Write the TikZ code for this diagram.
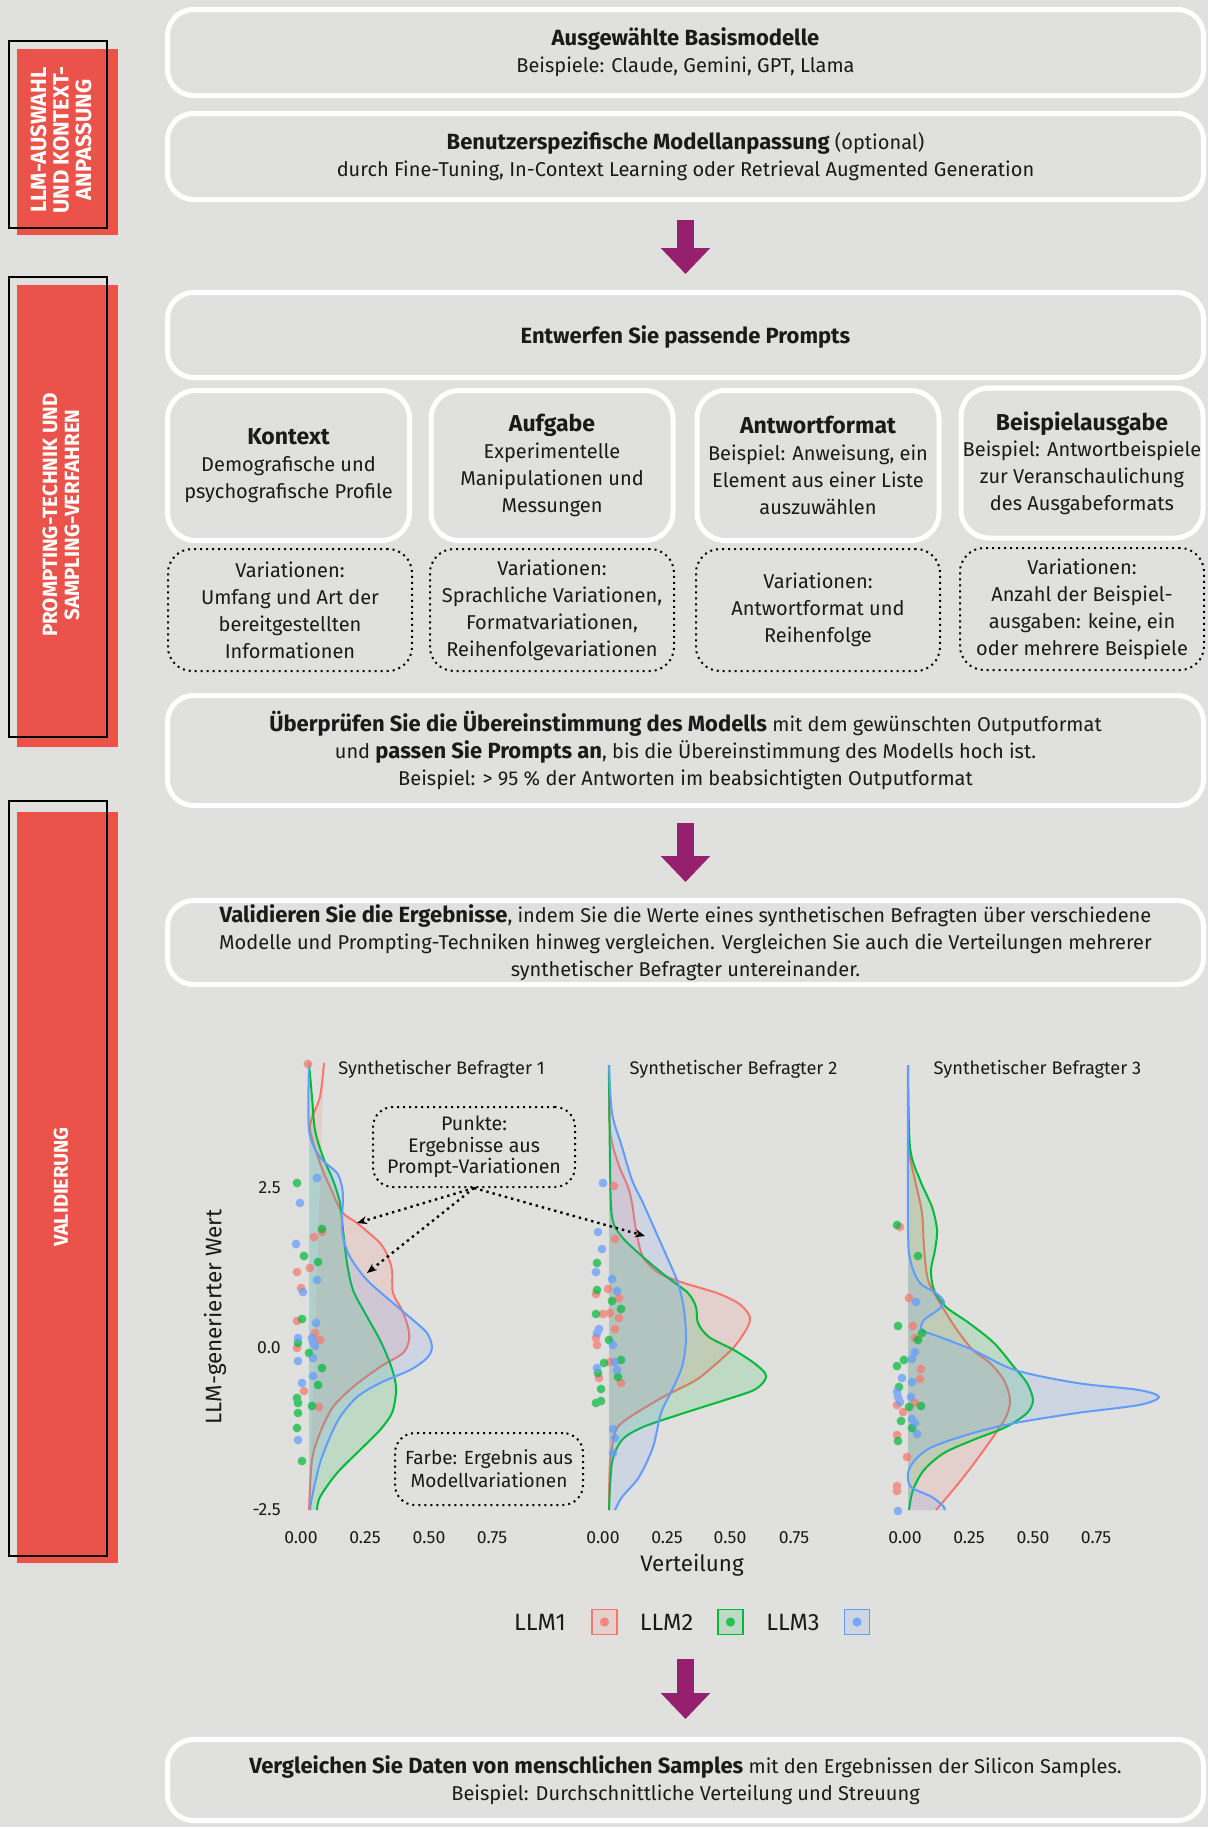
\documentclass[tikz,border=0pt]{standalone}
\usepackage{fontspec}
\setmainfont{Fira Sans}
\usepackage{xcolor}
\definecolor{bggray}{RGB}{224,224,222}
\definecolor{barred}{RGB}{234,82,74}
\definecolor{arrowpurple}{RGB}{150,31,110}
\definecolor{textdark}{RGB}{26,26,26}
\definecolor{llmred}{RGB}{248,118,109}
\definecolor{llmgreen}{RGB}{0,186,56}
\definecolor{llmblue}{RGB}{97,156,255}
\usepackage{tikz}
\usetikzlibrary{arrows.meta, positioning, calc}

\newcommand{\boldpart}[1]{{\fontsize{11}{13.4}\selectfont\bfseries #1}}
\newcommand{\parttitle}[1]{{\fontsize{11.5}{13.4}\selectfont\bfseries #1}}

\tikzset{
  stagebox/.style={draw=white, line width=2.5pt, rounded corners=13pt, fill=bggray,
    minimum width=518pt, inner sep=0pt, align=center, text=textdark,
    font=\fontsize{10}{13.4}\selectfont, execute at begin node={\rule{0pt}{11pt}}},
  partbox/.style={stagebox, rounded corners=14pt, minimum width=121pt, minimum height=75pt,
    execute at begin node={\rule{0pt}{12pt}}},
  varbox/.style={draw=black, line width=1pt, dotted, rounded corners=12pt, fill=bggray,
    minimum width=122pt, minimum height=61pt, inner sep=0pt, align=center, text=textdark,
    font=\fontsize{10}{13.5}\selectfont},
  notebox/.style={varbox, rounded corners=10pt, font=\fontsize{9.8}{10.8}\selectfont},
  bigarrow/.style={draw=arrowpurple, line width=8.5pt, -{Triangle[width=24pt, length=13pt]}},
  sidebar/.style={fill=barred},
  sideframe/.style={draw=black, line width=1.2pt},
  sidelabel/.style={rotate=90, text=white, align=center, inner sep=0pt,
    font=\fontsize{10}{11}\selectfont\bfseries},
  paneltitle/.style={text=textdark, inner sep=0pt, font=\fontsize{9.1}{10}\selectfont},
  ticklabel/.style={text=textdark, inner sep=0pt, font=\fontsize{8.8}{9}\selectfont},
  axislabel/.style={text=textdark, inner sep=0pt, font=\fontsize{11.2}{12}\selectfont},
  legendlabel/.style={text=textdark, inner sep=0pt, font=\fontsize{11.8}{12}\selectfont},
  legendkey/.style={line width=0.8pt, minimum size=12.5pt, inner sep=0pt},
  pointer/.style={draw=black, line width=1.2pt, dotted, -{Stealth[length=5pt, width=4pt]}},
}

% one density: fill, then the upper outline only
\newcommand{\densitycurve}[3]{%
  \fill[#1, fill opacity=0.15] plot[smooth] coordinates {#3} -- #2 -- cycle;
  \draw[#1, line width=1pt] plot[smooth] coordinates {#3};}

\begin{document}
\begin{tikzpicture}[x=0.5pt, y=-0.5pt]
  \useasboundingbox (0,0) rectangle (1208,1827);
  \fill[bggray] (0,0) rectangle (1208,1827);

  % --- Side bars ---
  \fill[sidebar] (17,49) rectangle (118,235);
  \draw[sideframe] (9,41) rectangle (107,228);
  \node[sidelabel, font=\fontsize{11}{11.2}\selectfont\bfseries] (sideauswahl) at (61,140)
    {LLM-AUSWAHL\\UND KONTEXT-\\ANPASSUNG};

  \fill[sidebar] (17,285) rectangle (118,747);
  \draw[sideframe] (9,277) rectangle (107,737);
  \node[sidelabel, font=\fontsize{10.3}{11}\selectfont\bfseries] (sideprompting) at (61,515)
    {PROMPTING-TECHNIK UND\\SAMPLING-VERFAHREN};

  \fill[sidebar] (17,812) rectangle (118,1563);
  \draw[sideframe] (9,801) rectangle (107,1556);
  \node[sidelabel] (sidevalidierung) at (61,1187) {VALIDIERUNG};

  % --- Stage 1: model choice ---
  \node[stagebox, minimum height=43pt] (basismodelle) at (685.5,52.5)
    {\boldpart{Ausgewählte Basismodelle}\\Beispiele: Claude, Gemini, GPT, Llama};
  \node[stagebox, minimum height=43pt] (anpassung) at (685.5,156.5)
    {\boldpart{Benutzerspezifische Modellanpassung} (optional)\\durch Fine-Tuning, In-Context Learning oder Retrieval Augmented Generation};

  % --- Stage 2: prompting ---
  \node[stagebox, minimum height=42.5pt] (prompts) at (685.5,335)
    {\boldpart{Entwerfen Sie passende Prompts}};
  \draw[bigarrow] ([yshift=-9pt]anpassung.south) -- ([yshift=8pt]prompts.north);

  \node[partbox] (kontext) at (288.5,465.5)
    {\parttitle{Kontext}\\Demografische und\\psychografische Profile};
  \node[partbox] (aufgabe) at (552,465.5)
    {\parttitle{Aufgabe}\\Experimentelle\\Manipulationen und\\Messungen};
  \node[partbox] (antwortformat) at (818,465.5)
    {\parttitle{Antwortformat}\\Beispiel: Anweisung, ein\\Element aus einer Liste\\auszuwählen};
  \node[partbox] (beispielausgabe) at (1082,463)
    {\parttitle{Beispielausgabe}\\Beispiel: Antwortbeispiele\\zur Veranschaulichung\\des Ausgabeformats};

  \node[varbox] (varkontext) at (290,610)
    {Variationen:\\Umfang und Art der\\bereitgestellten\\Informationen};
  \node[varbox] (varaufgabe) at (552,610)
    {Variationen:\\Sprachliche Variationen,\\Formatvariationen,\\Reihenfolgevariationen};
  \node[varbox] (varantwort) at (818,610)
    {Variationen:\\Antwortformat und\\Reihenfolge};
  \node[varbox] (varbeispiel) at (1082,609)
    {Variationen:\\Anzahl der Beispiel-\\ausgaben: keine, ein\\oder mehrere Beispiele};

  \node[stagebox, minimum height=55pt] (ueberpruefen) at (685.5,750.5)
    {\boldpart{Überprüfen Sie die Übereinstimmung des Modells} mit dem gewünschten Outputformat\\
     und \boldpart{passen Sie Prompts an}, bis die Übereinstimmung des Modells hoch ist.\\
     Beispiel: > 95 \% der Antworten im beabsichtigten Outputformat};

  % --- Stage 3: validation ---
  \node[stagebox, minimum height=42pt] (validieren) at (685.5,942.5)
    {\boldpart{Validieren Sie die Ergebnisse}, indem Sie die Werte eines synthetischen Befragten über verschiedene\\
     Modelle und Prompting-Techniken hinweg vergleichen. Vergleichen Sie auch die Verteilungen mehrerer\\
     synthetischer Befragter untereinander.};
  \draw[bigarrow] ([yshift=-7.5pt]ueberpruefen.south) -- ([yshift=8pt]validieren.north);

  % Densities, panel 1
  \densitycurve{llmred}{(309,1510)}{(324,1063) (320,1097) (310,1127) (320,1163) (330,1187) (342,1212) (357,1223) (380,1243) (388,1257) (392,1270) (393,1293) (402,1310) (408,1327) (409,1340) (403,1353) (380,1367) (353,1387) (333,1407) (320,1433) (312,1460) (309,1510)}
  \densitycurve{llmgreen}{(309,1510)}{(309,1063) (312,1097) (315,1130) (323,1157) (333,1180) (340,1203) (343,1230) (347,1263) (353,1290) (365,1313) (380,1340) (390,1363) (395,1380) (396,1393) (392,1413) (380,1430) (360,1450) (337,1473) (320,1497) (317,1510)}
  \densitycurve{llmblue}{(309,1510)}{(309,1063) (309,1130) (320,1157) (337,1173) (342,1187) (343,1200) (342,1217) (343,1237) (350,1257) (367,1280) (393,1303) (413,1320) (427,1333) (432,1347) (427,1358) (410,1370) (380,1383) (357,1397) (340,1417) (330,1437) (320,1463) (312,1497) (310,1510)}

  % Densities, panel 2
  \densitycurve{llmred}{(609,1510)}{(609,1065) (610,1130) (618,1163) (628,1187) (632,1203) (636,1230) (643,1257) (659,1273) (684,1283) (717,1293) (738,1303) (748,1313) (750,1320) (746,1330) (734,1347) (717,1363) (696,1380) (663,1397) (630,1417) (616,1430) (610,1463) (609,1510)}
  \densitycurve{llmgreen}{(609,1510)}{(609,1065) (610,1163) (612,1217) (622,1237) (643,1257) (667,1277) (688,1293) (696,1307) (698,1323) (709,1337) (734,1350) (754,1363) (765,1373) (765,1380) (754,1390) (725,1400) (684,1413) (643,1427) (622,1440) (612,1463) (609,1510)}
  \densitycurve{llmblue}{(609,1510)}{(609,1065) (612,1113) (622,1147) (632,1180) (643,1203) (655,1230) (667,1257) (678,1283) (684,1310) (686,1340) (682,1367) (672,1390) (661,1413) (653,1447) (639,1477) (622,1497) (615,1510)}

  % Densities, panel 3
  \densitycurve{llmred}{(908,1510)}{(908,1065) (909,1147) (915,1180) (922,1213) (924,1247) (928,1280) (940,1303) (957,1330) (973,1350) (990,1363) (1002,1377) (1008,1390) (1010,1403) (1006,1417) (998,1430) (986,1447) (969,1470) (953,1490) (936,1510)}
  \densitycurve{llmgreen}{(908,1510)}{(908,1065) (910,1147) (920,1180) (932,1207) (937,1230) (935,1250) (931,1270) (934,1290) (946,1307) (969,1323) (994,1343) (1014,1367) (1027,1383) (1033,1400) (1027,1413) (1006,1427) (973,1440) (944,1453) (924,1470) (913,1490) (909,1510)}
  \densitycurve{llmblue}{(908,1510)}{(908,1065) (908,1230) (911,1263) (920,1283) (936,1293) (944,1302) (938,1310) (924,1320) (922,1330) (940,1337) (973,1350) (1015,1370) (1077,1383) (1139,1390) (1159,1397) (1139,1405) (1077,1413) (1015,1423) (973,1433) (932,1447) (915,1460) (908,1473) (911,1487) (932,1497) (944,1507) (944,1510)}

  % Points, panel 1
  \fill[llmred, opacity=0.7] (308,1064) circle[radius=2.2pt] (314,1237) circle[radius=2.2pt] (322,1232) circle[radius=2.2pt] (310,1268) circle[radius=2.2pt] (297,1272) circle[radius=2.2pt] (301,1288) circle[radius=2.2pt] (297,1321) circle[radius=2.2pt] (315,1333) circle[radius=2.2pt] (320,1340) circle[radius=2.2pt] (297,1348) circle[radius=2.2pt] (304,1391) circle[radius=2.2pt] (319,1407) circle[radius=2.2pt];
  \fill[llmgreen, opacity=0.7] (297,1183) circle[radius=2.2pt] (322,1229) circle[radius=2.2pt] (304,1256) circle[radius=2.2pt] (318,1262) circle[radius=2.2pt] (302,1319) circle[radius=2.2pt] (298,1343) circle[radius=2.2pt] (309,1353) circle[radius=2.2pt] (322,1368) circle[radius=2.2pt] (318,1385) circle[radius=2.2pt] (297,1398) circle[radius=2.2pt] (298,1403) circle[radius=2.2pt] (312,1406) circle[radius=2.2pt] (298,1413) circle[radius=2.2pt] (297,1428) circle[radius=2.2pt] (302,1461) circle[radius=2.2pt];
  \fill[llmblue, opacity=0.7] (317,1178) circle[radius=2.2pt] (300,1203) circle[radius=2.2pt] (296,1244) circle[radius=2.2pt] (317,1280) circle[radius=2.2pt] (303,1292) circle[radius=2.2pt] (316,1323) circle[radius=2.2pt] (298,1338) circle[radius=2.2pt] (312,1338) circle[radius=2.2pt] (313,1342) circle[radius=2.2pt] (315,1346) circle[radius=2.2pt] (298,1361) circle[radius=2.2pt] (313,1358) circle[radius=2.2pt] (313,1376) circle[radius=2.2pt] (302,1383) circle[radius=2.2pt] (298,1440) circle[radius=2.2pt];

  % Points, panel 2
  \fill[llmred, opacity=0.7] (614,1186) circle[radius=2.2pt] (615,1239) circle[radius=2.2pt] (596,1294) circle[radius=2.2pt] (608,1289) circle[radius=2.2pt] (619,1298) circle[radius=2.2pt] (610,1313) circle[radius=2.2pt] (603,1314) circle[radius=2.2pt] (619,1318) circle[radius=2.2pt] (615,1329) circle[radius=2.2pt] (596,1338) circle[radius=2.2pt] (597,1345) circle[radius=2.2pt] (610,1362) circle[radius=2.2pt] (599,1378) circle[radius=2.2pt] (621,1383) circle[radius=2.2pt];
  \fill[llmgreen, opacity=0.7] (597,1263) circle[radius=2.2pt] (597,1290) circle[radius=2.2pt] (612,1301) circle[radius=2.2pt] (621,1309) circle[radius=2.2pt] (596,1314) circle[radius=2.2pt] (609,1340) circle[radius=2.2pt] (621,1360) circle[radius=2.2pt] (604,1363) circle[radius=2.2pt] (598,1373) circle[radius=2.2pt] (618,1377) circle[radius=2.2pt] (601,1389) circle[radius=2.2pt] (601,1401) circle[radius=2.2pt] (596,1403) circle[radius=2.2pt];
  \fill[llmblue, opacity=0.7] (603,1183) circle[radius=2.2pt] (598,1232) circle[radius=2.2pt] (602,1249) circle[radius=2.2pt] (596,1272) circle[radius=2.2pt] (612,1279) circle[radius=2.2pt] (617,1291) circle[radius=2.2pt] (599,1329) circle[radius=2.2pt] (597,1333) circle[radius=2.2pt] (613,1345) circle[radius=2.2pt] (615,1362) circle[radius=2.2pt] (597,1368) circle[radius=2.2pt] (617,1370) circle[radius=2.2pt] (613,1429) circle[radius=2.2pt] (615,1438) circle[radius=2.2pt] (613,1453) circle[radius=2.2pt];

  % Points, panel 3
  \fill[llmred, opacity=0.7] (900,1227) circle[radius=2.2pt] (909,1298) circle[radius=2.2pt] (913,1326) circle[radius=2.2pt] (915,1338) circle[radius=2.2pt] (921,1369) circle[radius=2.2pt] (920,1379) circle[radius=2.2pt] (897,1405) circle[radius=2.2pt] (915,1403) circle[radius=2.2pt] (903,1412) circle[radius=2.2pt] (897,1435) circle[radius=2.2pt] (907,1457) circle[radius=2.2pt] (897,1486) circle[radius=2.2pt] (897,1491) circle[radius=2.2pt];
  \fill[llmgreen, opacity=0.7] (897,1225) circle[radius=2.2pt] (918,1256) circle[radius=2.2pt] (898,1326) circle[radius=2.2pt] (922,1333) circle[radius=2.2pt] (918,1340) circle[radius=2.2pt] (904,1360) circle[radius=2.2pt] (897,1366) circle[radius=2.2pt] (899,1387) circle[radius=2.2pt] (909,1407) circle[radius=2.2pt] (921,1406) circle[radius=2.2pt] (901,1421) circle[radius=2.2pt] (912,1428) circle[radius=2.2pt] (898,1441) circle[radius=2.2pt];
  \fill[llmblue, opacity=0.7] (916,1302) circle[radius=2.2pt] (915,1352) circle[radius=2.2pt] (912,1359) circle[radius=2.2pt] (902,1378) circle[radius=2.2pt] (912,1382) circle[radius=2.2pt] (897,1392) circle[radius=2.2pt] (898,1397) circle[radius=2.2pt] (911,1397) circle[radius=2.2pt] (900,1402) circle[radius=2.2pt] (912,1419) circle[radius=2.2pt] (915,1423) circle[radius=2.2pt] (917,1434) circle[radius=2.2pt] (898,1511) circle[radius=2.2pt];

  % Panel titles
  \node[paneltitle] (titleone) at (441.5,1069) {Synthetischer Befragter 1};
  \node[paneltitle] (titletwo) at (733.5,1069) {Synthetischer Befragter 2};
  \node[paneltitle] (titlethree) at (1037.5,1069) {Synthetischer Befragter 3};

  % Axes
  \node[ticklabel, anchor=east] (ytickhigh) at (281,1188) {2.5};
  \node[ticklabel, anchor=east] (ytickmid) at (281,1348) {0.0};
  \node[ticklabel, anchor=east] (yticklow) at (281,1510) {-2.5};
  \node[axislabel, rotate=90] (ylabel) at (215,1317) {LLM-generierter Wert};

  \node[ticklabel] at (301,1538) {0.00};  \node[ticklabel] at (365,1538) {0.25};
  \node[ticklabel] at (429,1538) {0.50};  \node[ticklabel] at (492,1538) {0.75};
  \node[ticklabel] at (603,1538) {0.00};  \node[ticklabel] at (667,1538) {0.25};
  \node[ticklabel] at (730,1538) {0.50};  \node[ticklabel] at (794,1538) {0.75};
  \node[ticklabel] at (905,1538) {0.00};  \node[ticklabel] at (969,1538) {0.25};
  \node[ticklabel] at (1033,1538) {0.50}; \node[ticklabel] at (1096,1538) {0.75};
  \node[axislabel] (xlabel) at (692,1565) {Verteilung};

  % Callouts
  \node[notebox, minimum width=101pt, minimum height=40pt] (punkte) at (474,1147)
    {Punkte:\\Ergebnisse aus\\Prompt-Variationen};
  \node[notebox, minimum width=94pt, minimum height=36pt, font=\fontsize{9.5}{11.5}\selectfont] (farbe) at (489,1469)
    {Farbe: Ergebnis aus\\Modellvariationen};
  \coordinate (hitred) at (357,1223);
  \coordinate (hitfill) at (367,1273);
  \coordinate (hittwo) at (645,1236);
  \draw[pointer] (punkte.south) -- (hitred);
  \draw[pointer] (punkte.south) -- (hitfill);
  \draw[pointer] (punkte.south) -- (hittwo);

  % Legend
  \node[legendlabel] (labone) at (540,1622) {LLM1};
  \node[legendkey, draw=llmred, fill=llmred!15!bggray] (keyone) at (604.5,1622) {};
  \fill[llmred, opacity=0.8] (keyone) circle[radius=2.3pt];
  \node[legendlabel] (labtwo) at (666.5,1622) {LLM2};
  \node[legendkey, draw=llmgreen, fill=llmgreen!15!bggray] (keytwo) at (730.5,1622) {};
  \fill[llmgreen, opacity=0.8] (keytwo) circle[radius=2.3pt];
  \node[legendlabel] (labthree) at (793,1622) {LLM3};
  \node[legendkey, draw=llmblue, fill=llmblue!15!bggray] (keythree) at (857,1622) {};
  \fill[llmblue, opacity=0.8] (keythree) circle[radius=2.3pt];

  % --- Final comparison ---
  \coordinate (plotend) at (685.5,1659);
  \node[stagebox, minimum height=40.5pt] (vergleichen) at (685.5,1780)
    {\boldpart{Vergleichen Sie Daten von menschlichen Samples} mit den Ergebnissen der Silicon Samples.\\
     Beispiel: Durchschnittliche Verteilung und Streuung};
  \draw[bigarrow] (plotend) -- ([yshift=9pt]vergleichen.north);
\end{tikzpicture}
\end{document}
